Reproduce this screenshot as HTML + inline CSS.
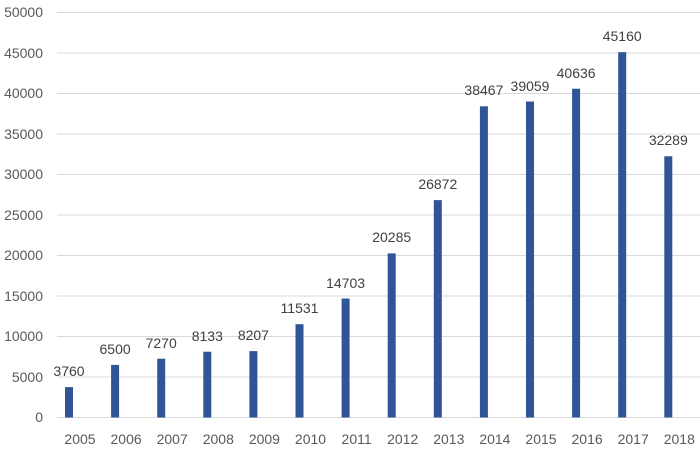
<!DOCTYPE html>
<html><head><style>body{margin:0;background:#fff}svg{display:block}</style></head><body>
<svg width="700" height="451" xmlns="http://www.w3.org/2000/svg" font-family="Liberation Sans, sans-serif" font-size="14">
<g stroke="#d9d9d9" stroke-width="1">
<line x1="57" x2="700" y1="417.5" y2="417.5"/>
<line x1="57" x2="700" y1="377" y2="377"/>
<line x1="57" x2="700" y1="336.5" y2="336.5"/>
<line x1="57" x2="700" y1="296" y2="296"/>
<line x1="57" x2="700" y1="255.5" y2="255.5"/>
<line x1="57" x2="700" y1="215" y2="215"/>
<line x1="57" x2="700" y1="174.5" y2="174.5"/>
<line x1="57" x2="700" y1="134" y2="134"/>
<line x1="57" x2="700" y1="93.5" y2="93.5"/>
<line x1="57" x2="700" y1="53" y2="53"/>
<line x1="57" x2="700" y1="12.5" y2="12.5"/>
</g>
<g fill="#595959" text-anchor="end">
<text x="43" y="422">0</text><text x="43" y="382">5000</text><text x="43" y="341">10000</text><text x="43" y="301">15000</text><text x="43" y="260">20000</text><text x="43" y="220">25000</text><text x="43" y="179">30000</text><text x="43" y="139">35000</text><text x="43" y="98">40000</text><text x="43" y="58">45000</text><text x="43" y="17">50000</text>
</g>
<g fill="#2f5597">
<rect x="65" y="387.08" width="8" height="30.42"/>
<rect x="111.1" y="364.91" width="8" height="52.59"/>
<rect x="157.2" y="358.69" width="8" height="58.81"/>
<rect x="203.3" y="351.7" width="8" height="65.8"/>
<rect x="249.4" y="351.11" width="8" height="66.39"/>
<rect x="295.5" y="324.21" width="8" height="93.29"/>
<rect x="341.6" y="298.55" width="8" height="118.95"/>
<rect x="387.7" y="253.39" width="8" height="164.11"/>
<rect x="433.8" y="200.11" width="8" height="217.39"/>
<rect x="479.9" y="106.3" width="8" height="311.2"/>
<rect x="526" y="101.51" width="8" height="315.99"/>
<rect x="572.1" y="88.75" width="8" height="328.75"/>
<rect x="618.2" y="52.16" width="8" height="365.34"/>
<rect x="664.3" y="156.28" width="8" height="261.22"/>
</g>
<g fill="#404040" text-anchor="middle">
<text x="69" y="376">3760</text>
<text x="115.1" y="354">6500</text>
<text x="161.2" y="348">7270</text>
<text x="207.3" y="341">8133</text>
<text x="253.4" y="340">8207</text>
<text x="299.5" y="313">11531</text>
<text x="345.6" y="288">14703</text>
<text x="391.7" y="242">20285</text>
<text x="437.8" y="189">26872</text>
<text x="483.9" y="95">38467</text>
<text x="530" y="91">39059</text>
<text x="576.1" y="78">40636</text>
<text x="622.2" y="41">45160</text>
<text x="668.3" y="145">32289</text>
</g>
<g fill="#595959" text-anchor="middle">
<text x="80" y="444">2005</text><text x="126.1" y="444">2006</text><text x="172.2" y="444">2007</text><text x="218.3" y="444">2008</text><text x="264.4" y="444">2009</text><text x="310.5" y="444">2010</text><text x="356.6" y="444">2011</text><text x="402.7" y="444">2012</text><text x="448.8" y="444">2013</text><text x="494.9" y="444">2014</text><text x="541" y="444">2015</text><text x="587.1" y="444">2016</text><text x="633.2" y="444">2017</text><text x="679.3" y="444">2018</text>
</g>
</svg>
</body></html>
